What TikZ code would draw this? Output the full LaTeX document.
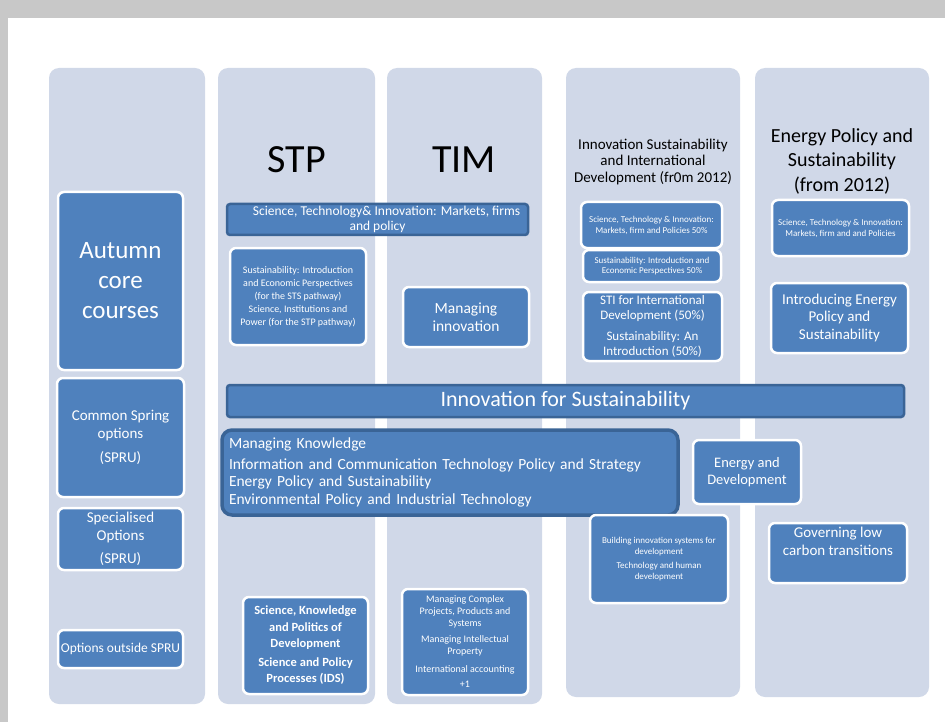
\documentclass[tikz,border=0pt]{standalone}
\usepackage{fontspec}
\setmainfont{Carlito}
\definecolor{colfill}{HTML}{D0D8E8}
\definecolor{boxblue}{HTML}{4F81BD}
\definecolor{edgeblue}{HTML}{3A6496}
\definecolor{pageframe}{HTML}{C8C8C8}
\newcommand{\fsz}[2]{\fontsize{#1}{#2}\selectfont}
\begin{document}
\begin{tikzpicture}[x=1pt,y=-1pt,
  column/.style={fill=colfill, rounded corners=10pt},
  course/.style={draw=white, line width=2.5pt, fill=boxblue, rounded corners=6pt,
                 text=white, align=center, inner sep=2pt},
  bar/.style={draw=edgeblue, line width=2.5pt, fill=boxblue, rounded corners=3pt,
              text=white, align=center, inner sep=1pt},
  head/.style={align=center, text=black, inner sep=0pt}]
\useasboundingbox (0,0) rectangle (945,722);
\fill[white] (0,0) rectangle (945,722);
\fill[pageframe] (0,0) rectangle (945,18);
\fill[pageframe] (0,0) rectangle (8,722);

% programme columns
\fill[column] (49,68) rectangle (205,704);
\fill[column] (218,68) rectangle (375,704);
\fill[column] (387,68) rectangle (542,704);
\fill[column] (566,68) rectangle (740,697);
\fill[column] (755,68) rectangle (929,697);

% column headings
\node[head, font=\fsz{40}{44}] (stp) at (297,160) {STP};
\node[head, font=\fsz{40}{44}] (tim) at (464,160) {TIM};
\node[head, font=\fsz{15}{16.5}] (isid) at (653,162)
  {Innovation Sustainability\\and International\\Development (fr0m 2012)};
\node[head, font=\fsz{20}{24.5}] (eps) at (842,161)
  {Energy Policy and\\Sustainability\\(from 2012)};

% left column: course types
\node[course, minimum width=125, minimum height=178, font=\fsz{25}{30}] (autumn) at (120.5,281)
  {Autumn\\core\\courses};
\node[course, minimum width=127, minimum height=119, font=\fsz{15}{18}] (spring) at (120.5,437.5)
  {Common Spring\\options\\[6pt](SPRU)};
\node[course, minimum width=125, minimum height=62, font=\fsz{15}{18}] (special) at (120.5,539)
  {Specialised\\Options\\[5pt](SPRU)};
\node[course, minimum width=125, minimum height=38, font=\fsz{13.5}{15}] (outside) at (120.5,649)
  {Options outside SPRU};

% STP and TIM
\node[course, minimum width=136, minimum height=97, font=\fsz{10}{13}] (sustintro) at (298,296.5)
  {Sustainability: Introduction\\and Economic Perspectives\\(for the STS pathway)\\Science, Institutions and\\Power (for the STP pathway)};
\node[course, minimum width=126, minimum height=60, font=\fsz{15.5}{18}] (maninno) at (466,317)
  {Managing\\innovation};
\node[bar, minimum width=301, minimum height=31, font=\fsz{13.5}{15}] (stimkt) at (377.5,219.5)
  {\hspace*{18pt}Science, Technology\& Innovation: Markets, firms\\and policy};

% ISID column
\node[course, minimum width=141, minimum height=46, font=\fsz{9}{11}] (sti50) at (651.5,225)
  {Science, Technology \& Innovation:\\Markets, firm and Policies 50\%};
\node[course, minimum width=138, minimum height=32, font=\fsz{9}{10.5}] (sust50) at (652,266)
  {Sustainability: Introduction and\\Economic Perspectives 50\%};
\node[course, minimum width=139, minimum height=69, font=\fsz{13}{15}] (stiintl) at (652.5,326.5)
  {STI for International\\Development (50\%)\\[6pt]Sustainability: An\\Introduction (50\%)};

% EPS column
\node[course, minimum width=137, minimum height=56, font=\fsz{9}{11}] (stieps) at (840.5,228)
  {Science, Technology \& Innovation:\\Markets, firm and and Policies};
\node[course, minimum width=137, minimum height=70, font=\fsz{15}{17.5}] (introeps) at (839.5,318)
  {Introducing Energy\\Policy and\\Sustainability};

% shared spring options
\node[bar, minimum width=677, minimum height=32, font=\fsz{22}{24}] (innosust) at (565.5,401)
  {Innovation for Sustainability};
\node[draw=edgeblue, line width=3.5pt, fill=boxblue, rounded corners=10pt, text=white,
      align=left, text width=442, inner sep=7pt, minimum height=85, font=\fsz{15.5}{18.5}]
  (manknow) at (450,472.5)
  {Managing Knowledge\\[3pt]Information and Communication Technology Policy and Strategy\\[-2pt]Energy Policy and Sustainability\\Environmental Policy and Industrial Technology\\[4pt]};
\node[course, minimum width=108, minimum height=64, font=\fsz{14.5}{17}] (energydev) at (747,472)
  {Energy and\\Development};
\node[course, minimum width=138, minimum height=88, font=\fsz{9}{11}] (building) at (659,559)
  {Building innovation systems for\\development\\[3pt]Technology and human\\development};
\node[course, minimum width=138, minimum height=60, font=\fsz{15}{18}] (governing) at (838,553)
  {Governing low\\carbon transitions\\[6pt]};

% other departments
\node[course, minimum width=125, minimum height=97, font=\bfseries\fsz{12.5}{16.5}] (ids) at (305.5,645.5)
  {Science, Knowledge\\and Politics of\\Development\\[2pt]Science and Policy\\Processes (IDS)};
\node[course, minimum width=126, minimum height=106, font=\fsz{10}{12}] (other) at (465,642)
  {Managing Complex\\Projects, Products and\\Systems\\[4pt]Managing Intellectual\\Property\\[6pt]International accounting\\[3pt]+1};
\end{tikzpicture}
\end{document}
